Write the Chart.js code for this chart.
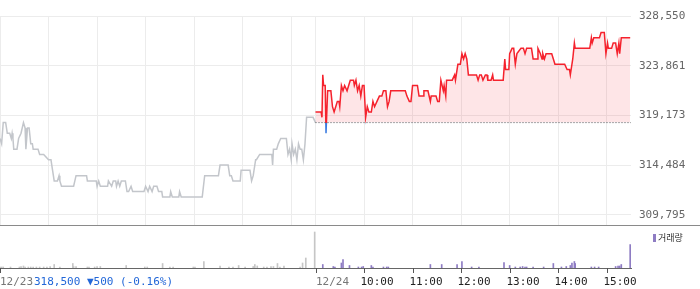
<!DOCTYPE html>
<html>
<head>
<meta charset="utf-8">
<script src="https://cdn.jsdelivr.net/npm/chart.js@4.4.0/dist/chart.umd.min.js"></script>
<style>
  html, body { margin: 0; padding: 0; background: #fff; }
  #wrap { position: relative; width: 700px; height: 289px; overflow: hidden; font-family: 'DejaVu Sans Mono', monospace; }
  #priceBox { position: absolute; left: 0; top: 0; width: 700px; height: 226px; }
  #volBox { position: absolute; left: 0; top: 226px; width: 700px; height: 63px; }
  #sep { position: absolute; left: 0; top: 225px; width: 700px; height: 1px; background: #8a8a8a; }
  #lastInfo { position: absolute; left: 34px; top: 275px; font-size: 11px; line-height: 13px; color: #2267d8; white-space: pre; }
  #volLegend { position: absolute; left: 653px; top: 232px; font-family: 'Noto Sans CJK KR', sans-serif; font-size: 9px; line-height: 11px; color: #333; }
  #volLegend .mk { display: inline-block; width: 3px; height: 8px; background: #8e7cc3; margin-right: 2px; vertical-align: -1px; }
</style>
</head>
<body>
<div id="wrap">
  <div id="priceBox"><canvas id="priceChart"></canvas></div>
  <div id="volBox"><canvas id="volChart"></canvas></div>
  <div id="sep"></div>
  <div id="lastInfo">318,500 ▼500 (-0.16%)</div>
  <div id="volLegend"><span class="mk"></span>거래량</div>
</div>
<script>
'use strict';

/* --- Data (minutes counted from 09:00 of each day) --- */
const basePrice = 318500;
const priceTicks = [309795, 314484, 319173, 323861, 328550];

// 12/23
const prevMin = [0, 2, 4, 7, 9, 12, 14, 15, 16, 17, 21, 23, 26, 29, 31, 32, 34, 36, 38, 40, 41, 47, 49, 54, 60, 63, 64, 67, 71, 73, 74, 76, 91, 94, 107, 108, 119, 120, 122, 124, 133, 134, 138, 140, 143, 144, 146, 148, 150, 155, 157, 159, 162, 164, 178, 180, 183, 185, 188, 190, 194, 196, 200, 201, 210, 211, 213, 221, 222, 224, 250, 253, 270, 272, 282, 284, 286, 288, 297, 298, 309, 311, 313, 316, 317, 321, 336, 337, 338, 342, 344, 347, 354, 356, 358, 360, 361, 363, 365, 367, 369, 371, 373, 375, 377, 379, 387, 390];
const prevPrice = [317000, 316500, 318500, 318500, 317500, 317500, 317000, 317500, 317000, 316000, 316000, 317000, 317500, 318500, 318000, 316000, 318000, 318000, 316500, 316500, 316000, 316000, 315500, 315500, 315000, 315000, 314500, 313000, 313000, 313500, 313000, 312500, 312500, 313500, 313500, 313000, 313000, 312500, 313000, 312500, 312500, 313000, 312500, 313000, 313000, 312500, 313000, 312500, 313000, 313000, 312000, 312000, 312500, 312000, 312000, 312500, 312000, 312500, 312000, 312500, 312500, 312000, 312000, 311500, 311500, 312000, 311500, 311500, 312000, 311500, 311500, 313500, 313500, 314500, 314500, 313500, 313500, 313000, 313000, 314000, 314000, 313000, 313500, 315000, 315000, 315500, 315500, 314500, 316000, 316000, 316500, 317000, 317000, 315500, 316000, 315000, 316500, 315500, 316000, 315000, 316500, 316000, 316000, 315000, 316500, 319000, 319000, 318500];

// 12/24
const todayMin = [0, 7, 8, 9, 10, 12, 13, 15, 19, 21, 23, 25, 27, 29, 30, 32, 34, 36, 39, 40, 43, 47, 48, 50, 52, 54, 56, 58, 60, 62, 64, 66, 69, 71, 73, 76, 79, 82, 84, 87, 89, 91, 93, 111, 113, 116, 118, 120, 126, 128, 133, 134, 139, 142, 143, 149, 151, 153, 155, 158, 159, 161, 162, 169, 172, 173, 176, 179, 181, 183, 185, 187, 189, 199, 201, 203, 205, 207, 210, 212, 213, 217, 219, 220, 232, 234, 235, 239, 240, 243, 245, 247, 249, 254, 257, 259, 261, 267, 269, 274, 275, 278, 280, 281, 283, 285, 292, 294, 296, 308, 311, 314, 315, 318, 320, 321, 339, 341, 342, 344, 351, 353, 357, 359, 361, 362, 366, 368, 371, 373, 375, 376, 378, 389];
const todayPrice = [319500, 319500, 319000, 323000, 322000, 322000, 317500, 321500, 321500, 320000, 319500, 320000, 320500, 320500, 320000, 322000, 321500, 322000, 321500, 321500, 322500, 322500, 322000, 322500, 321500, 322000, 321000, 322000, 322000, 319000, 320000, 319500, 319500, 320500, 320000, 320500, 321000, 321000, 321500, 321500, 320000, 320500, 321500, 321500, 321000, 320500, 320500, 322000, 322000, 321000, 321000, 321500, 321500, 320500, 321000, 321000, 320500, 320500, 322500, 321500, 322000, 321000, 322500, 322500, 323000, 322500, 324000, 324000, 325000, 324500, 325000, 324500, 323000, 323000, 322500, 323000, 323000, 322500, 323000, 323000, 322500, 322500, 323000, 322500, 322500, 324500, 323500, 323500, 325000, 325500, 325500, 324000, 325000, 325500, 325500, 325000, 325500, 325500, 324500, 324500, 325500, 325000, 324500, 325000, 324500, 325000, 325000, 324500, 324000, 324000, 323500, 323500, 323000, 324500, 326000, 325500, 325500, 326500, 326000, 326500, 326500, 327000, 327000, 325000, 326000, 325500, 325500, 326000, 326000, 325000, 326000, 325000, 326500, 326500];

// volume (shares)
const prevVolMin = [0, 2, 4, 13, 24, 26, 29, 31, 35, 38, 41, 45, 49, 54, 58, 62, 67, 74, 90, 91, 94, 108, 110, 117, 120, 124, 156, 179, 182, 201, 210, 214, 239, 241, 252, 272, 283, 288, 295, 303, 313, 315, 318, 326, 330, 335, 338, 343, 346, 351, 371, 374, 378, 389];
const prevVol = [200, 200, 200, 200, 200, 300, 400, 200, 200, 200, 200, 200, 200, 200, 200, 300, 700, 200, 900, 300, 300, 200, 200, 200, 300, 300, 500, 200, 200, 900, 200, 200, 200, 200, 1300, 400, 200, 200, 500, 200, 300, 700, 400, 200, 200, 300, 300, 900, 200, 400, 200, 1000, 2000, 7200];
const todayVolMin = [9, 22, 24, 32, 34, 42, 53, 57, 59, 69, 71, 84, 88, 90, 142, 156, 175, 181, 193, 202, 233, 240, 247, 253, 256, 259, 261, 269, 282, 294, 304, 310, 315, 317, 320, 321, 341, 345, 350, 371, 374, 376, 378, 389];
const todayVol = [700, 300, 200, 1000, 1700, 500, 200, 200, 300, 500, 200, 200, 200, 200, 700, 700, 700, 1300, 200, 200, 1100, 500, 200, 200, 300, 200, 200, 200, 200, 900, 200, 300, 500, 1000, 1300, 900, 200, 200, 200, 300, 400, 400, 700, 4700];

// axis
const gridMin = [0, 60, 120, 180, 240, 300, 360, 390, 450, 510, 570, 630, 690, 750];
const axisMin = [0, 390, 450, 510, 570, 630, 690, 750];
const axisLabels = ['12/23', '12/24', '10:00', '11:00', '12:00', '13:00', '14:00', '15:00'];

const DAY_LEN = 390;
const MONO = 'DejaVu Sans Mono';

/* --- Line colour: red above the base price, blue below --- */
function upDownColor(context) {
  const chart = context.chart;
  const area = chart.chartArea;
  if (!area) return '#f5222d';
  const yb = chart.scales.y.getPixelForValue(basePrice);
  const t = Math.min(1, Math.max(0, (yb - area.top) / (area.bottom - area.top)));
  const g = chart.ctx.createLinearGradient(0, area.top, 0, area.bottom);
  g.addColorStop(0, '#f5222d');
  g.addColorStop(t, '#f5222d');
  g.addColorStop(t, '#3a7be0');
  g.addColorStop(1, '#3a7be0');
  return g;
}

/* --- Price chart --- */
new Chart(document.getElementById('priceChart'), {
  type: 'line',
  data: {
    datasets: [{
      data: [{ x: DAY_LEN, y: basePrice }, { x: DAY_LEN * 2, y: basePrice }],
      borderColor: '#555',
      borderWidth: 1,
      borderDash: [1, 2],
      pointRadius: 0,
      fill: false,
      order: 0
    }, {
      data: todayMin.map((m, i) => ({ x: m + DAY_LEN, y: todayPrice[i] })),
      borderColor: upDownColor,
      borderWidth: 1.5,
      pointRadius: 0,
      tension: 0,
      fill: { target: { value: basePrice }, above: 'rgba(245,40,60,0.12)', below: 'rgba(58,123,224,0.15)' },
      order: 1
    }, {
      data: prevMin.map((m, i) => ({ x: m, y: prevPrice[i] })),
      borderColor: '#c3c6cb',
      borderWidth: 1.5,
      pointRadius: 0,
      tension: 0,
      fill: false,
      order: 2
    }]
  },
  options: {
    responsive: true, maintainAspectRatio: false, animation: false,
    layout: { padding: { top: 16, bottom: 1, left: 0, right: 0 } },
    plugins: { legend: { display: false }, tooltip: { enabled: false } },
    scales: {
      x: {
        type: 'linear', min: 0, max: DAY_LEN * 2, offset: false,
        afterBuildTicks: s => { s.ticks = gridMin.map(v => ({ value: v })); },
        afterFit: s => { s.height = 0; s.paddingLeft = 0; s.paddingRight = 0; },
        ticks: { display: false },
        grid: { color: '#ececec', drawTicks: false },
        border: { display: false }
      },
      y: {
        position: 'right', min: 308850, max: 328550,
        afterBuildTicks: s => { s.ticks = priceTicks.map(v => ({ value: v })); },
        afterFit: s => { s.width = 69; s.paddingTop = 0; s.paddingBottom = 0; },
        ticks: {
          padding: 8, color: '#666',
          font: { family: MONO, size: 11 },
          callback: v => v.toLocaleString('en-US')
        },
        grid: { color: '#ececec', drawTicks: false },
        border: { display: false }
      }
    }
  }
});

/* --- Time axis labels under the volume panel --- */
const timeAxisPlugin = {
  id: 'timeAxis',
  afterDraw(chart) {
    const { ctx, chartArea } = chart;
    const xs = chart.scales.x;
    ctx.save();
    ctx.font = '11px "' + MONO + '"';
    ctx.textBaseline = 'middle';
    ctx.lineWidth = 1;
    axisMin.forEach((m, i) => {
      const px = Math.round(xs.getPixelForValue(m)) + 0.5;
      ctx.strokeStyle = '#555';
      ctx.beginPath();
      ctx.moveTo(px, chartArea.bottom);
      ctx.lineTo(px, chartArea.bottom + 5);
      ctx.stroke();
      const isDate = axisLabels[i].indexOf('/') >= 0;
      ctx.fillStyle = isDate ? '#777' : '#222';
      ctx.fillText(axisLabels[i], isDate ? px - 0.5 : px - 4, chartArea.bottom + 14);
    });
    ctx.restore();
  }
};

/* --- Volume chart --- */
new Chart(document.getElementById('volChart'), {
  type: 'bar',
  data: {
    datasets: [{
      data: prevVolMin.map((m, i) => ({ x: m, y: prevVol[i] })),
      backgroundColor: '#c6c6c6',
      barThickness: 1,
      grouped: false
    }, {
      data: todayVolMin.map((m, i) => ({ x: m + DAY_LEN, y: todayVol[i] })),
      backgroundColor: '#8e7cc3',
      barThickness: 1,
      grouped: false
    }]
  },
  options: {
    responsive: true, maintainAspectRatio: false, animation: false,
    layout: { padding: { top: 0, right: 69, left: 0, bottom: 0 } },
    plugins: { legend: { display: false }, tooltip: { enabled: false } },
    scales: {
      x: {
        type: 'linear', min: 0, max: DAY_LEN * 2, offset: false,
        afterFit: s => { s.height = 21; s.paddingLeft = 0; s.paddingRight = 0; },
        ticks: { display: false },
        grid: { display: false },
        border: { display: true, color: '#666' }
      },
      y: { display: false, min: 0, max: 8400 }
    }
  },
  plugins: [timeAxisPlugin]
});
</script>
</body>
</html>
